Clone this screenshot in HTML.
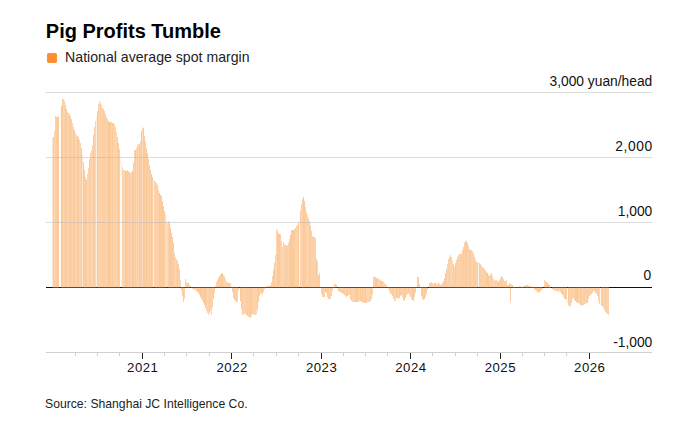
<!DOCTYPE html>
<html><head><meta charset="utf-8">
<style>
html,body{margin:0;padding:0;background:#fff;width:700px;height:433px;overflow:hidden}
svg{display:block}
text{font-family:"Liberation Sans",sans-serif;fill:#111}
</style></head>
<body>
<svg width="700" height="433" viewBox="0 0 700 433">
<text x="45.8" y="37.9" style="font-weight:bold;font-size:20px;fill:#000">Pig Profits Tumble</text>
<rect x="47" y="53" width="10" height="10" rx="1.8" fill="#fd8f33"/>
<text x="65.1" y="62" style="font-size:14.8px;fill:#222" textLength="184.5" lengthAdjust="spacingAndGlyphs">National average spot margin</text>
<rect x="46" y="287" width="606" height="1" fill="#111"/>
<g fill="#f7902f" shape-rendering="crispEdges"><path d="M54 130.6V288h1V130.6zM63 98.6V288h1V98.6zM67 111.8V288h1V111.8zM72 122.7V288h1V122.7zM75 132.7V288h1V132.7zM76 134.5V288h1V134.5zM79 140.0V288h1V140.0zM80 142.9V288h1V142.9zM87 174.1V288h1V174.1zM88 167.7V288h1V167.7zM91 150.0V288h1V150.0zM92 145.0V288h1V145.0zM95 120.8V288h1V120.8zM99 101.0V288h1V101.0zM101 105.4V288h1V105.4zM105 114.4V288h1V114.4zM111 122.1V288h1V122.1zM113 123.2V288h1V123.2zM115 126.9V288h1V126.9zM116 131.6V288h1V131.6zM122 166.8V288h1V166.8zM123 170.0V288h1V170.0zM124 170.0V288h1V170.0zM130 172.7V288h1V172.7zM134 150.4V288h1V150.4zM136 148.2V288h1V148.2zM138 144.0V288h1V144.0zM148 158.7V288h1V158.7zM174 253.0V288h1V253.0zM175 256.6V288h1V256.6zM180 279.5V288h1V279.5zM184 287V298.9h1V287zM185 278.9V288h1V278.9zM187 283.0V288h1V283.0zM192 287V288.7h1V287zM193 287V289.2h1V287zM195 287V289.9h1V287zM207 287V313.2h1V287zM208 287V314.5h1V287zM211 287V314.9h1V287zM217 280.0V288h1V280.0zM224 276.3V288h1V276.3zM225 279.2V288h1V279.2zM230 283.4V288h1V283.4zM231 287.0V288h1V287.0zM235 287V301.0h1V287zM237 287V302.3h1V287zM243 287V314.2h1V287zM253 287V313.9h1V287zM255 287V314.6h1V287zM256 287V313.9h1V287zM263 287V291.7h1V287zM265 287.0V288h1V287.0zM269 286.0V288h1V286.0zM275 254.7V288h1V254.7zM276 229.2V288h1V229.2zM281 240.6V288h1V240.6zM282 247.3V288h1V247.3zM284 243.6V288h1V243.6zM295 227.6V288h1V227.6zM296 225.6V288h1V225.6zM301 204.1V288h1V204.1zM307 215.0V288h1V215.0zM308 217.9V288h1V217.9zM314 237.1V288h1V237.1zM317 260.8V288h1V260.8zM329 287V299.0h1V287zM330 287V299.0h1V287zM340 287V292.3h1V287zM345 287V295.7h1V287zM348 287V294.8h1V287zM349 287V294.8h1V287zM352 287V301.5h1V287zM354 287V302.0h1V287zM359 287V301.3h1V287zM363 287V302.5h1V287zM366 287V302.6h1V287zM367 287V302.3h1V287zM368 287V301.9h1V287zM369 287V301.6h1V287zM372 287V294.6h1V287zM374 277.1V288h1V277.1zM379 279.4V288h1V279.4zM383 281.9V288h1V281.9zM384 282.9V288h1V282.9zM385 283.9V288h1V283.9zM387 286.7V288h1V286.7zM394 287V300.6h1V287zM395 287V301.0h1V287zM398 287V298.6h1V287zM402 287V296.9h1V287zM411 287V298.8h1V287zM416 287V288.3h1V287zM420 287V288.0h1V287zM430 282.7V288h1V282.7zM432 282.9V288h1V282.9zM433 283.8V288h1V283.8zM437 284.1V288h1V284.1zM438 282.2V288h1V282.2zM441 284.4V288h1V284.4zM442 283.0V288h1V283.0zM447 263.8V288h1V263.8zM450 255.4V288h1V255.4zM451 257.3V288h1V257.3zM452 260.9V288h1V260.9zM454 266.7V288h1V266.7zM458 255.2V288h1V255.2zM472 250.5V288h1V250.5zM476 262.1V288h1V262.1zM482 266.8V288h1V266.8zM484 269.1V288h1V269.1zM489 275.9V288h1V275.9zM491 273.0V288h1V273.0zM493 279.1V288h1V279.1zM496 279.7V288h1V279.7zM510 283.7V288h1V283.7zM511 284.2V288h1V284.2zM515 287V288.0h1V287zM516 287V288.0h1V287zM517 287V288.0h1V287zM524 285.5V288h1V285.5zM525 284.7V288h1V284.7zM544 280.0V288h1V280.0zM545 281.1V288h1V281.1zM555 287V290.5h1V287zM556 287V290.9h1V287zM558 287V291.5h1V287zM559 287V291.3h1V287zM563 287V297.3h1V287zM564 287V298.6h1V287zM573 287V298.0h1V287zM579 287V304.1h1V287zM582 287V305.4h1V287zM585 287V303.8h1V287zM588 287V299.3h1V287zM590 287V294.9h1V287zM596 287V294.4h1V287zM599 287V304.0h1V287zM603 287V308.0h1V287z" fill-opacity="0.39"/><path d="M55 116.0V288h1V116.0zM64 101.2V288h1V101.2zM68 113.3V288h1V113.3zM90 153.3V288h1V153.3zM94 126.9V288h1V126.9zM98 103.6V288h1V103.6zM102 108.3V288h1V108.3zM107 119.2V288h1V119.2zM114 124.3V288h1V124.3zM119 148.9V288h1V148.9zM128 170.8V288h1V170.8zM131 172.0V288h1V172.0zM137 144.7V288h1V144.7zM140 141.0V288h1V141.0zM145 142.1V288h1V142.1zM150 170.4V288h1V170.4zM154 181.0V288h1V181.0zM155 182.0V288h1V182.0zM156 183.1V288h1V183.1zM157 184.9V288h1V184.9zM158 189.8V288h1V189.8zM168 221.2V288h1V221.2zM176 258.6V288h1V258.6zM178 264.1V288h1V264.1zM179 268.8V288h1V268.8zM186 282.1V288h1V282.1zM202 287V300.6h1V287zM206 287V310.6h1V287zM210 287V311.4h1V287zM214 287V293.0h1V287zM216 281.9V288h1V281.9zM220 274.2V288h1V274.2zM223 274.5V288h1V274.5zM226 281.7V288h1V281.7zM227 282.4V288h1V282.4zM228 283.0V288h1V283.0zM244 287V313.5h1V287zM245 287V314.2h1V287zM248 287V316.8h1V287zM249 287V317.3h1V287zM251 287V316.3h1V287zM254 287V314.6h1V287zM259 287V296.4h1V287zM260 287V293.8h1V287zM262 287V294.6h1V287zM266 286.0V288h1V286.0zM270 284.6V288h1V284.6zM271 281.9V288h1V281.9zM272 276.1V288h1V276.1zM280 234.4V288h1V234.4zM283 242.2V288h1V242.2zM286 246.3V288h1V246.3zM288 242.9V288h1V242.9zM297 225.1V288h1V225.1zM300 210.2V288h1V210.2zM302 198.6V288h1V198.6zM305 206.8V288h1V206.8zM306 211.9V288h1V211.9zM311 231.2V288h1V231.2zM312 235.9V288h1V235.9zM321 287V293.7h1V287zM322 287V297.0h1V287zM323 287V297.0h1V287zM324 287V296.5h1V287zM326 287V292.9h1V287zM331 287V296.4h1V287zM332 287V291.1h1V287zM334 283.9V288h1V283.9zM335 283.6V288h1V283.6zM341 287V292.9h1V287zM351 287V301.2h1V287zM353 287V301.8h1V287zM361 287V301.5h1V287zM370 287V301.2h1V287zM377 278.4V288h1V278.4zM378 278.9V288h1V278.9zM380 279.9V288h1V279.9zM386 285.3V288h1V285.3zM389 287V292.1h1V287zM390 287V293.5h1V287zM391 287V294.3h1V287zM407 287V293.8h1V287zM409 287V295.1h1V287zM410 287V297.2h1V287zM414 287V296.7h1V287zM417 277.0V288h1V277.0zM423 287V299.5h1V287zM425 287V296.5h1V287zM426 287V293.5h1V287zM434 282.9V288h1V282.9zM440 285.0V288h1V285.0zM444 278.0V288h1V278.0zM448 258.6V288h1V258.6zM456 260.1V288h1V260.1zM459 253.7V288h1V253.7zM461 253.9V288h1V253.9zM464 243.2V288h1V243.2zM467 243.4V288h1V243.4zM468 246.4V288h1V246.4zM471 249.7V288h1V249.7zM480 264.2V288h1V264.2zM485 270.3V288h1V270.3zM492 276.1V288h1V276.1zM494 280.8V288h1V280.8zM495 280.1V288h1V280.1zM503 279.1V288h1V279.1zM505 281.4V288h1V281.4zM507 285.1V288h1V285.1zM513 287.0V288h1V287.0zM518 286.6V288h1V286.6zM519 286.2V288h1V286.2zM526 284.8V288h1V284.8zM528 285.9V288h1V285.9zM530 286.4V288h1V286.4zM532 287.0V288h1V287.0zM537 287V291.6h1V287zM541 287V290.3h1V287zM542 287V289.2h1V287zM552 287V288.9h1V287zM557 287V291.2h1V287zM560 287V292.2h1V287zM566 287V300.4h1V287zM569 287V306.6h1V287zM570 287V305.5h1V287zM571 287V302.7h1V287zM574 287V299.9h1V287zM586 287V303.1h1V287zM593 287V290.6h1V287zM598 287V300.5h1V287zM601 287V305.6h1V287zM604 287V309.9h1V287zM606 287V312.8h1V287zM607 287V314.0h1V287zM608 287V315.0h1V287z" fill-opacity="0.42"/><path d="M56 116.7V288h1V116.7zM65 104.6V288h1V104.6zM69 113.8V288h1V113.8zM70 115.9V288h1V115.9zM71 119.0V288h1V119.0zM74 129.8V288h1V129.8zM84 169.8V288h1V169.8zM85 177.1V288h1V177.1zM100 103.1V288h1V103.1zM103 109.3V288h1V109.3zM104 110.5V288h1V110.5zM106 117.2V288h1V117.2zM117 137.1V288h1V137.1zM127 169.7V288h1V169.7zM152 176.9V288h1V176.9zM161 196.0V288h1V196.0zM163 206.2V288h1V206.2zM164 211.2V288h1V211.2zM172 236.5V288h1V236.5zM182 287V296.0h1V287zM183 287V301.9h1V287zM196 287V290.5h1V287zM197 287V291.5h1V287zM198 287V293.0h1V287zM203 287V302.7h1V287zM212 287V307.3h1V287zM213 287V298.7h1V287zM215 286.2V288h1V286.2zM221 273.2V288h1V273.2zM229 283.0V288h1V283.0zM232 287V291.7h1V287zM233 287V298.0h1V287zM234 287V299.5h1V287zM236 287V301.7h1V287zM238 287V290.0h1V287zM241 287V309.4h1V287zM242 287V315.0h1V287zM246 287V314.9h1V287zM247 287V315.9h1V287zM252 287V314.3h1V287zM257 287V309.5h1V287zM268 286.0V288h1V286.0zM273 269.9V288h1V269.9zM287 245.2V288h1V245.2zM289 238.9V288h1V238.9zM293 230.2V288h1V230.2zM310 226.1V288h1V226.1zM313 236.9V288h1V236.9zM315 238.1V288h1V238.1zM319 273.0V288h1V273.0zM320 287.0V288h1V287.0zM328 287V299.0h1V287zM333 287.0V288h1V287.0zM339 287V291.7h1V287zM342 287V293.4h1V287zM343 287V293.9h1V287zM344 287V294.7h1V287zM346 287V296.7h1V287zM355 287V302.0h1V287zM357 287V302.0h1V287zM358 287V301.7h1V287zM364 287V303.0h1V287zM371 287V298.9h1V287zM373 276.7V288h1V276.7zM382 281.2V288h1V281.2zM392 287V296.1h1V287zM393 287V298.7h1V287zM400 287V296.3h1V287zM401 287V294.8h1V287zM403 287V299.5h1V287zM405 287V297.6h1V287zM406 287V294.5h1V287zM415 287V292.6h1V287zM421 287V295.8h1V287zM427 287V290.4h1V287zM429 283.3V288h1V283.3zM435 282.5V288h1V282.5zM436 283.8V288h1V283.8zM443 281.1V288h1V281.1zM446 269.0V288h1V269.0zM449 256.6V288h1V256.6zM457 257.3V288h1V257.3zM460 253.9V288h1V253.9zM462 250.4V288h1V250.4zM463 246.7V288h1V246.7zM469 248.7V288h1V248.7zM473 252.5V288h1V252.5zM474 256.7V288h1V256.7zM475 260.0V288h1V260.0zM477 262.3V288h1V262.3zM479 262.8V288h1V262.8zM481 265.6V288h1V265.6zM483 268.0V288h1V268.0zM490 274.4V288h1V274.4zM499 280.3V288h1V280.3zM500 278.2V288h1V278.2zM501 275.6V288h1V275.6zM502 277.2V288h1V277.2zM504 280.5V288h1V280.5zM506 280.2V288h1V280.2zM514 287V287.8h1V287zM520 286.4V288h1V286.4zM533 287V288.2h1V287zM536 287V290.7h1V287zM538 287V292.5h1V287zM540 287V291.4h1V287zM547 283.2V288h1V283.2zM548 284.3V288h1V284.3zM553 287V289.5h1V287zM561 287V293.5h1V287zM565 287V299.2h1V287zM572 287V298.9h1V287zM578 287V303.3h1V287zM580 287V305.1h1V287zM583 287V304.9h1V287zM584 287V304.4h1V287zM589 287V295.8h1V287zM591 287V294.1h1V287zM592 287V292.5h1V287zM594 287V291.4h1V287zM595 287V293.1h1V287zM605 287V311.5h1V287z" fill-opacity="0.45"/><path d="M53 137.3V288h1V137.3zM57 117.4V288h1V117.4zM58 116.0V288h1V116.0zM61 105.7V288h1V105.7zM62 99.0V288h1V99.0zM66 109.2V288h1V109.2zM73 126.6V288h1V126.6zM77 136.2V288h1V136.2zM78 137.3V288h1V137.3zM81 148.2V288h1V148.2zM83 162.1V288h1V162.1zM86 179.9V288h1V179.9zM89 158.6V288h1V158.6zM93 135.1V288h1V135.1zM97 110.5V288h1V110.5zM108 120.6V288h1V120.6zM109 121.9V288h1V121.9zM110 122.0V288h1V122.0zM112 122.6V288h1V122.6zM118 143.2V288h1V143.2zM125 171.3V288h1V171.3zM126 171.0V288h1V171.0zM129 172.1V288h1V172.1zM132 171.3V288h1V171.3zM133 163.3V288h1V163.3zM135 149.9V288h1V149.9zM139 144.0V288h1V144.0zM141 131.0V288h1V131.0zM143 127.6V288h1V127.6zM144 135.9V288h1V135.9zM146 147.5V288h1V147.5zM147 152.6V288h1V152.6zM149 164.7V288h1V164.7zM151 174.3V288h1V174.3zM159 192.6V288h1V192.6zM160 194.6V288h1V194.6zM162 201.0V288h1V201.0zM169 223.4V288h1V223.4zM170 227.6V288h1V227.6zM171 233.3V288h1V233.3zM173 243.4V288h1V243.4zM177 260.6V288h1V260.6zM181 287V290.2h1V287zM188 283.0V288h1V283.0zM189 285.2V288h1V285.2zM191 287V288.0h1V287zM194 287V289.5h1V287zM199 287V294.6h1V287zM200 287V296.8h1V287zM201 287V298.7h1V287zM204 287V305.1h1V287zM205 287V308.0h1V287zM209 287V313.3h1V287zM218 277.9V288h1V277.9zM219 275.8V288h1V275.8zM222 273.1V288h1V273.1zM240 287V301.1h1V287zM250 287V317.6h1V287zM258 287V301.9h1V287zM261 287V293.1h1V287zM264 287V289.0h1V287zM267 286.0V288h1V286.0zM274 263.3V288h1V263.3zM277 231.2V288h1V231.2zM278 232.6V288h1V232.6zM279 233.6V288h1V233.6zM285 245.3V288h1V245.3zM290 234.5V288h1V234.5zM291 229.8V288h1V229.8zM292 229.6V288h1V229.6zM294 229.2V288h1V229.2zM298 222.4V288h1V222.4zM303 196.6V288h1V196.6zM304 200.9V288h1V200.9zM309 220.7V288h1V220.7zM316 258.6V288h1V258.6zM318 275.3V288h1V275.3zM325 287V291.5h1V287zM327 287V297.0h1V287zM336 285.0V288h1V285.0zM338 287V291.1h1V287zM347 287V295.9h1V287zM350 287V298.9h1V287zM356 287V302.0h1V287zM360 287V301.0h1V287zM362 287V301.9h1V287zM365 287V303.0h1V287zM375 277.4V288h1V277.4zM376 277.9V288h1V277.9zM381 280.5V288h1V280.5zM388 287V289.3h1V287zM396 287V298.0h1V287zM397 287V297.9h1V287zM399 287V297.8h1V287zM404 287V300.9h1V287zM408 287V293.0h1V287zM412 287V300.4h1V287zM413 287V300.8h1V287zM418 277.0V288h1V277.0zM419 283.5V288h1V283.5zM422 287V298.6h1V287zM424 287V298.5h1V287zM431 282.1V288h1V282.1zM439 284.2V288h1V284.2zM445 273.0V288h1V273.0zM453 264.3V288h1V264.3zM455 263.3V288h1V263.3zM465 240.9V288h1V240.9zM466 240.9V288h1V240.9zM470 250.0V288h1V250.0zM486 271.8V288h1V271.8zM487 273.3V288h1V273.3zM488 274.7V288h1V274.7zM497 280.7V288h1V280.7zM498 281.5V288h1V281.5zM508 285.4V288h1V285.4zM509 283.0V288h1V283.0zM512 285.3V288h1V285.3zM521 286.7V288h1V286.7zM522 286.9V288h1V286.9zM523 286.3V288h1V286.3zM527 285.4V288h1V285.4zM529 286.2V288h1V286.2zM531 286.6V288h1V286.6zM534 287V289.3h1V287zM535 287V290.0h1V287zM539 287V292.4h1V287zM546 282.2V288h1V282.2zM549 285.4V288h1V285.4zM550 286.5V288h1V286.5zM554 287V290.1h1V287zM562 287V295.2h1V287zM568 287V304.5h1V287zM575 287V301.3h1V287zM576 287V301.9h1V287zM577 287V302.6h1V287zM581 287V305.8h1V287zM587 287V302.5h1V287zM597 287V296.3h1V287zM602 287V306.4h1V287z" fill-opacity="0.48"/><path d="M52 137.3V288h1V137.3z" fill-opacity="0.2"/><path d="M60 110.4V288h1V110.4z" fill-opacity="0.05"/><path d="M82 155.3V288h1V155.3z" fill-opacity="0.2"/><path d="M96 115.6V288h1V115.6z" fill-opacity="0.15"/><path d="M120 154.7V288h1V154.7z" fill-opacity="0.05"/><path d="M121 161.5V288h1V161.5z" fill-opacity="0.1"/><path d="M142 126.6V288h1V126.6z" fill-opacity="0.3"/><path d="M153 179.0V288h1V179.0z" fill-opacity="0.15"/><path d="M165 215.3V288h1V215.3z" fill-opacity="0.3"/><path d="M166 221.0V288h1V221.0z" fill-opacity="0.3"/><path d="M167 222.9V288h1V222.9z" fill-opacity="0.32"/><path d="M239 287V290.0h1V287z" fill-opacity="0.1"/><path d="M299 216.3V288h1V216.3z" fill-opacity="0.1"/><path d="M478 262.6V288h1V262.6z" fill-opacity="0.1"/><path d="M567 287V302.5h1V287z" fill-opacity="0.1"/><path d="M600 287V304.8h1V287z" fill-opacity="0.1"/><path d="M510 287.5V302h1V287.5z" fill-opacity="0.45"/></g>
<g fill="#b8b8b8" fill-opacity="0.5">
<rect x="46" y="92" width="606" height="1"/>
<rect x="46" y="157" width="606" height="1"/>
<rect x="46" y="222" width="606" height="1"/>
</g>
<rect x="46" y="352" width="606" height="1" fill="#cfcfcf"/>
<g text-anchor="end" style="font-size:13.8px">
<text x="652.3" y="85.8">3,000 yuan/head</text>
<text x="652.8" y="151" letter-spacing="0.6">2,000</text>
<text x="652.3" y="216">1,000</text>
<text x="651.3" y="280.3">0</text>
<text x="652.3" y="347">-1,000</text>
</g>
<g id="ticks"></g>
<rect x="75" y="353" width="1" height="3" fill="#cfcfcf"/>
<rect x="97" y="353" width="1" height="3" fill="#cfcfcf"/>
<rect x="119" y="353" width="1" height="3" fill="#cfcfcf"/>
<rect x="142" y="353" width="1" height="6" fill="#222"/>
<rect x="164" y="353" width="1" height="3" fill="#cfcfcf"/>
<rect x="186" y="353" width="1" height="3" fill="#cfcfcf"/>
<rect x="209" y="353" width="1" height="3" fill="#cfcfcf"/>
<rect x="231" y="353" width="1" height="6" fill="#222"/>
<rect x="253" y="353" width="1" height="3" fill="#cfcfcf"/>
<rect x="276" y="353" width="1" height="3" fill="#cfcfcf"/>
<rect x="298" y="353" width="1" height="3" fill="#cfcfcf"/>
<rect x="321" y="353" width="1" height="6" fill="#222"/>
<rect x="343" y="353" width="1" height="3" fill="#cfcfcf"/>
<rect x="365" y="353" width="1" height="3" fill="#cfcfcf"/>
<rect x="387" y="353" width="1" height="3" fill="#cfcfcf"/>
<rect x="410" y="353" width="1" height="6" fill="#222"/>
<rect x="432" y="353" width="1" height="3" fill="#cfcfcf"/>
<rect x="455" y="353" width="1" height="3" fill="#cfcfcf"/>
<rect x="477" y="353" width="1" height="3" fill="#cfcfcf"/>
<rect x="500" y="353" width="1" height="6" fill="#222"/>
<rect x="522" y="353" width="1" height="3" fill="#cfcfcf"/>
<rect x="544" y="353" width="1" height="3" fill="#cfcfcf"/>
<rect x="566" y="353" width="1" height="3" fill="#cfcfcf"/>
<rect x="589" y="353" width="1" height="6" fill="#222"/>
<g text-anchor="middle" style="font-size:13.2px" letter-spacing="0.5">
<text x="142.75" y="372">2021</text>
<text x="232.15" y="372">2022</text>
<text x="321.55" y="372">2023</text>
<text x="410.95" y="372">2024</text>
<text x="500.35" y="372">2025</text>
<text x="589.75" y="372">2026</text>
</g>
<text x="45" y="408" style="font-size:12.2px;fill:#222">Source: Shanghai JC Intelligence Co.</text>
</svg>
</body></html>
